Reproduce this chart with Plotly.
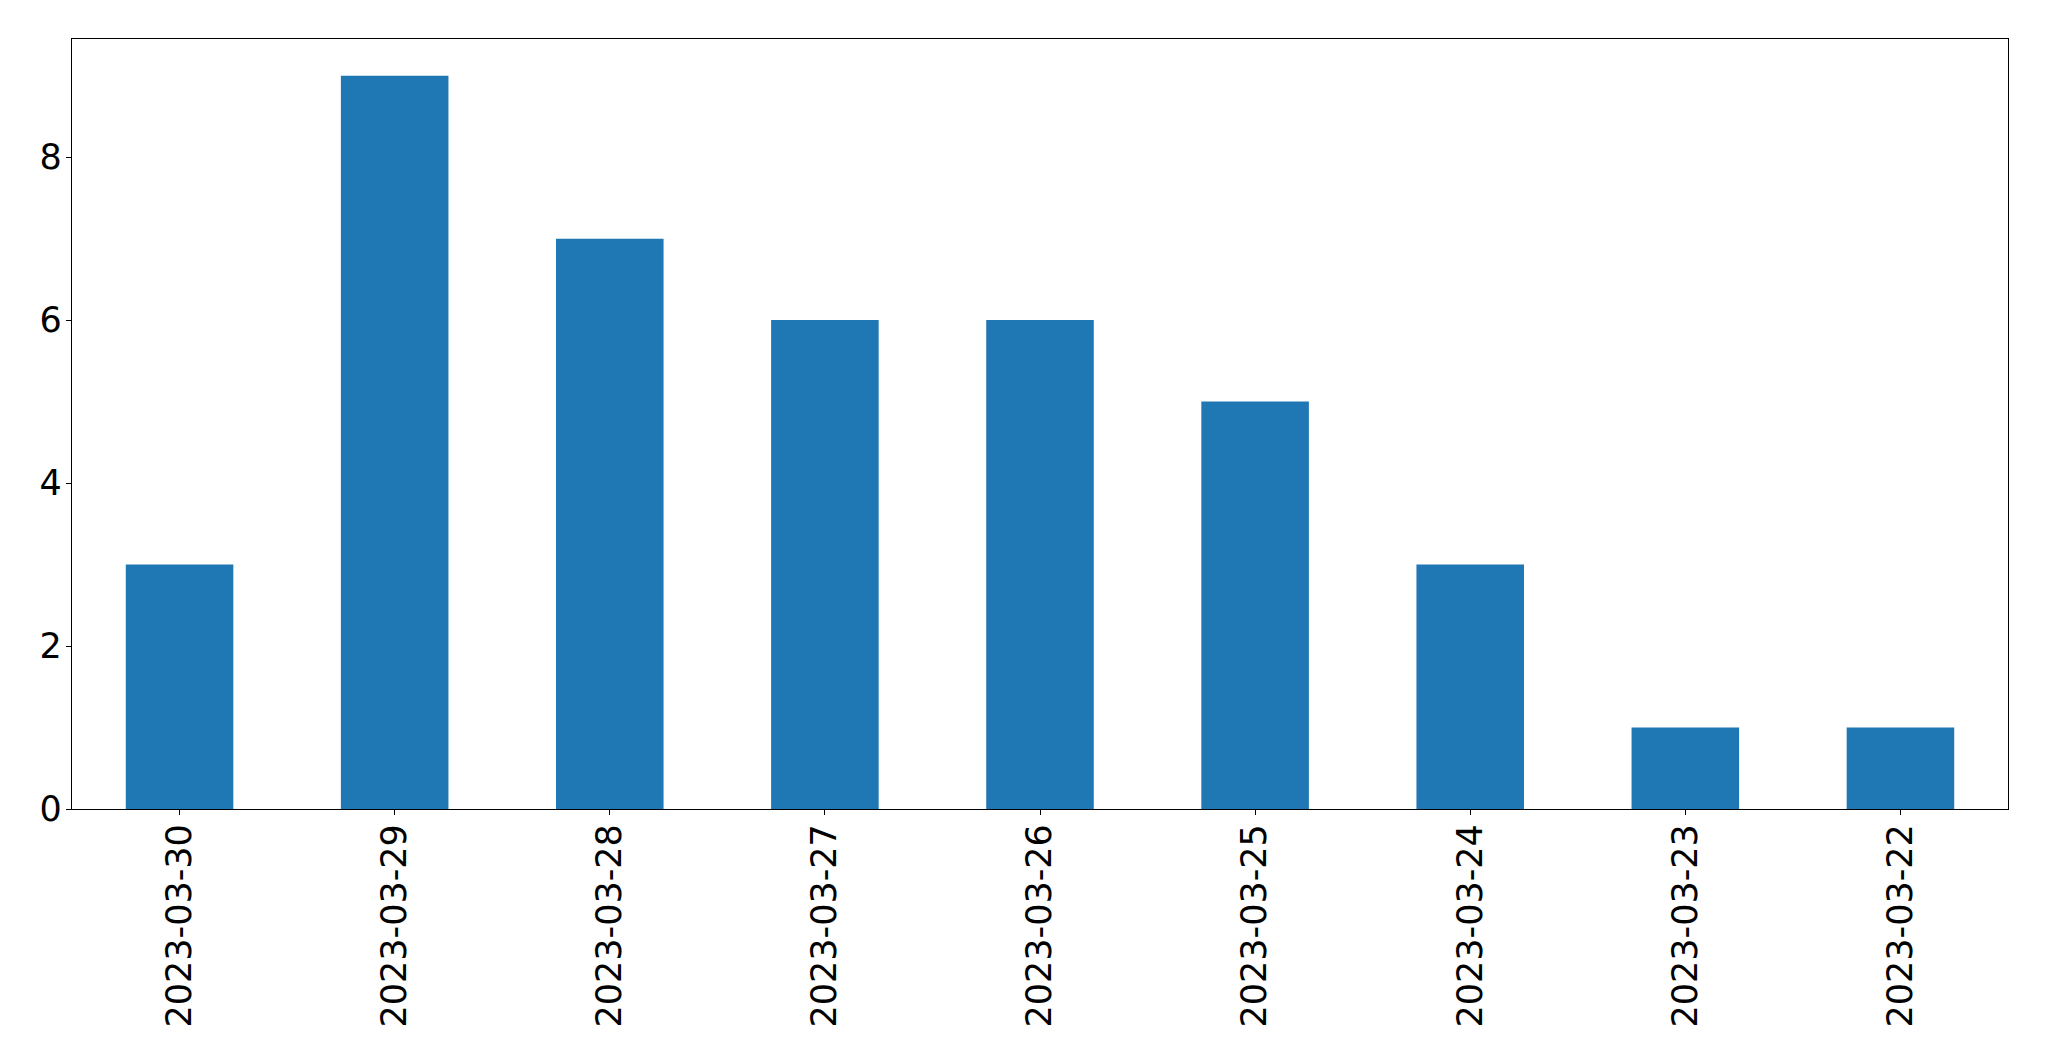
import plotly.graph_objects as go

dates = ["2023-03-30", "2023-03-29", "2023-03-28", "2023-03-27", "2023-03-26",
         "2023-03-25", "2023-03-24", "2023-03-23", "2023-03-22"]
counts = [3, 9, 7, 6, 6, 5, 3, 1, 1]
y_ticks = [0, 2, 4, 6, 8]

fig = go.Figure(go.Bar(x=dates, y=counts, width=0.5, marker_color="#1f77b4",
                       marker_line_width=0))

font = dict(family="DejaVu Sans", size=35, color="black")
fig.update_layout(
    width=2041, height=1053,
    margin=dict(l=64, r=41, t=31, b=252, pad=0),
    plot_bgcolor="white", paper_bgcolor="white",
    showlegend=False, font=font,
)
fig.update_xaxes(type="category", range=[-0.5, 8.5], tickangle=-90,
                 showline=True, linecolor="black", linewidth=1.3, mirror=True,
                 ticks="outside", ticklen=5, tickwidth=1.3, tickcolor="black",
                 showgrid=False, zeroline=False, tickfont=font,
                 ticklabelstandoff=-5)
fig.update_yaxes(range=[0, 9.45], tickvals=y_ticks,
                 showline=True, linecolor="black", linewidth=1.3, mirror=True,
                 ticks="outside", ticklen=5, tickwidth=1.3, tickcolor="black",
                 showgrid=False, zeroline=False, tickfont=font,
                 ticklabelstandoff=-3)

fig.write_html("out.html")
